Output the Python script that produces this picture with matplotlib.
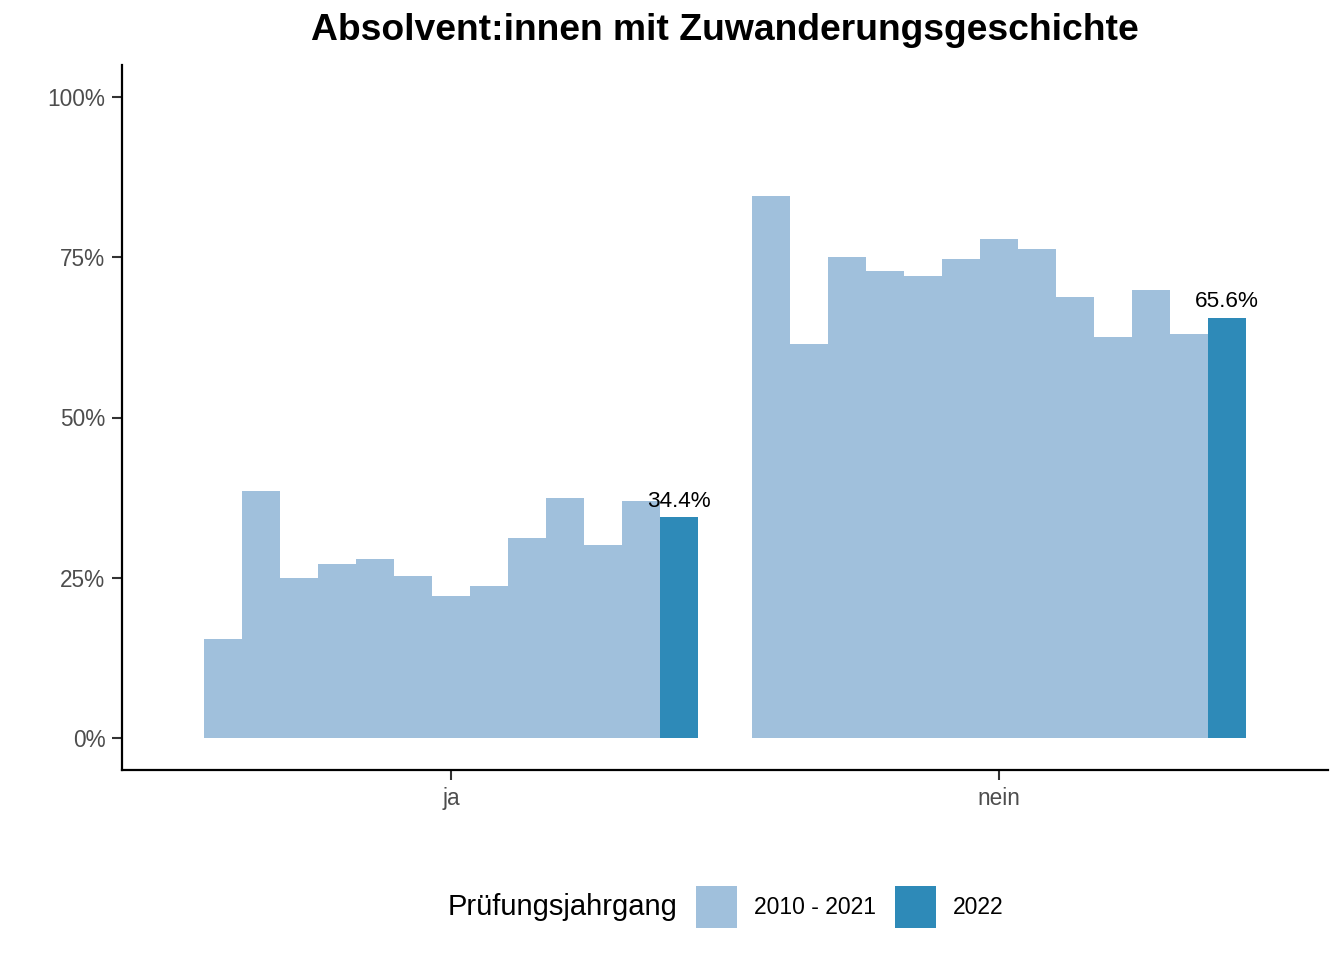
import matplotlib
matplotlib.use("Agg")
import matplotlib.pyplot as plt
from matplotlib.patches import Patch
from matplotlib.offsetbox import HPacker
import numpy as np

plt.rcParams['font.family'] = ['Liberation Sans', 'DejaVu Sans']

categories = ["ja", "nein"]
years = list(range(2010, 2023))
ja_values = [0.154, 0.385, 0.249, 0.271, 0.279, 0.252, 0.221, 0.237, 0.312, 0.374, 0.301, 0.369, 0.344]
nein_values = [0.846, 0.615, 0.751, 0.729, 0.721, 0.748, 0.779, 0.763, 0.688, 0.626, 0.699, 0.631, 0.656]
y_ticks = [0, 0.25, 0.5, 0.75, 1.0]
y_tick_labels = ["0%", "25%", "50%", "75%", "100%"]
legend_labels = ["2010 - 2021", "2022"]

light = "#a0c0dc"
dark = "#2e8ab8"

fig = plt.figure(figsize=(13.44, 9.6), dpi=100)
ax = fig.add_axes([122/1344, 1-770/960, (1328-122)/1344, (770-65)/960])

series = [ja_values, nein_values]
n = len(years)
w = 0.9 / n
for ci, vals in enumerate(series):
    pos = ci + 1
    xs = pos - 0.45 + (np.arange(n) + 0.5) * w
    cols = [light] * (n - 1) + [dark]
    ax.bar(xs, vals, width=w, color=cols, linewidth=0)
    ax.text(xs[-1], vals[-1] + 0.008, f"{vals[-1]*100:.1f}%", ha='center', va='bottom',
            fontsize=16.2, color='black')

ax.set_xlim(0.4, 2.6)
ax.set_ylim(-0.05, 1.05)
ax.set_xticks([1, 2])
ax.set_xticklabels(categories)
ax.set_yticks(y_ticks)
ax.set_yticklabels(y_tick_labels)
ax.tick_params(axis='both', labelsize=16.3, labelcolor='#4d4d4d', color='#333333',
               length=7, width=1.5, pad=5)
for s in ['top', 'right']:
    ax.spines[s].set_visible(False)
for s in ['left', 'bottom']:
    ax.spines[s].set_linewidth(1.6)
    ax.spines[s].set_color('black')

fig.text(725/1344, 1-30/960, "Absolvent:innen mit Zuwanderungsgeschichte", ha='center', va='center',
         fontsize=26.8, fontweight='bold')

handles = [Patch(facecolor=light, edgecolor='none'), Patch(facecolor=dark, edgecolor='none')]
leg = fig.legend(handles, legend_labels, loc='center', bbox_to_anchor=(726/1344, 1-907/960),
                 ncol=2, frameon=False, fontsize=16.5, title="Prüfungsjahrgang",
                 title_fontsize=21, handlelength=1.8, handleheight=2.4, handletextpad=0.75,
                 columnspacing=0.8)
leg._legend_box.__class__ = HPacker
leg._legend_box.align = "center"
leg._legend_box.sep = 13
fig.savefig("out.png", dpi=100)
